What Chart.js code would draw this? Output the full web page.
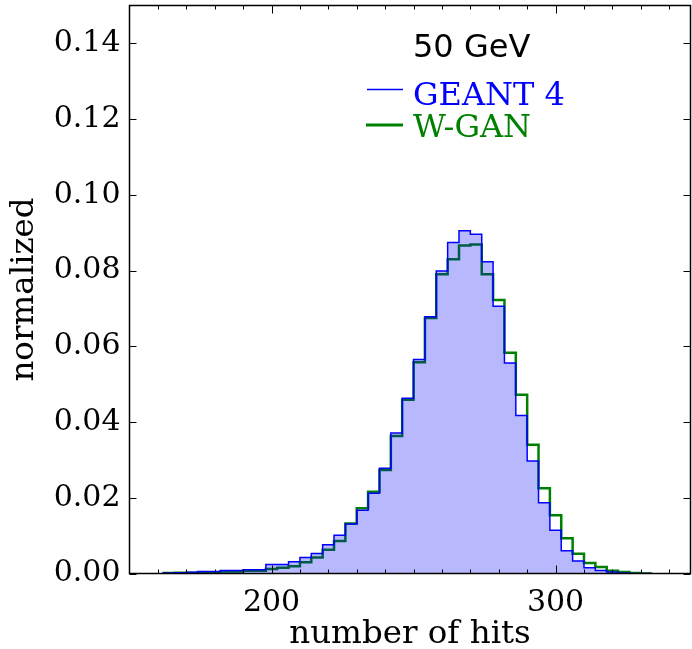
<!DOCTYPE html>
<html><head><meta charset="utf-8">
<script src="https://cdn.jsdelivr.net/npm/chart.js@4"></script>
<style>html,body{margin:0;padding:0;background:#fff}canvas{display:block}</style>
</head><body>
<canvas id="c" width="692" height="649"></canvas>
<script>
// histogram bin edges (number of hits)
const binEdges = [162,166,170,174,178,182,186,190,194,198,202,206,210,214,218,222,226,230,234,238,242,246,250,254,258,262,266,270,274,278,282,286,290,294,298,302,306,310,314,318,322,326,330,334];
// normalized counts per bin
const geant4 = [0.0001,0.0002,0.0003,0.0005,0.0005,0.0008,0.0008,0.0010,0.0010,0.0024,0.0024,0.0031,0.0042,0.0053,0.0076,0.0101,0.0131,0.0167,0.0212,0.0278,0.0371,0.0463,0.0565,0.0678,0.0799,0.0874,0.0905,0.0896,0.0823,0.0706,0.0556,0.0417,0.0297,0.0187,0.0114,0.0060,0.0033,0.0015,0.0008,0.0004,0.0001,0.0000,0.0000];
const wgan   = [0.0001,0.0002,0.0002,0.0003,0.0003,0.0005,0.0005,0.0007,0.0007,0.0012,0.0015,0.0019,0.0030,0.0042,0.0063,0.0086,0.0132,0.0172,0.0216,0.0273,0.0363,0.0459,0.0558,0.0675,0.0790,0.0830,0.0866,0.0869,0.0790,0.0722,0.0583,0.0472,0.0340,0.0225,0.0154,0.0093,0.0052,0.0028,0.0017,0.0007,0.0004,0.0001,0.0000];
const xMajorTicks = [200, 300];
const xMinorTicks = [160,170,180,190,210,220,230,240,250,260,270,280,290,310,320,330,340];
const yTicks = [0,0.02,0.04,0.06,0.08,0.10,0.12,0.14];
const xRange = [150, 347.5];
const yRange = [0, 0.15];
const energyLabel = '50 GeV';
const seriesNames = ['GEANT 4', 'W-GAN'];

function stepPoints(vals){
  const pts = [{x: binEdges[0], y: 0}];
  vals.forEach((v, i) => pts.push({x: binEdges[i], y: v}));
  pts.push({x: binEdges[binEdges.length - 1], y: 0});
  return pts;
}

const BLUE = '#0000ff', GREEN = '#008000';
const serif = 'DejaVu Serif';

const frameTicks = {
  id: 'frameTicks',
  afterDraw(chart){
    const {ctx, chartArea: a, scales: {x, y}} = chart;
    ctx.save();
    ctx.strokeStyle = '#000';
    ctx.lineWidth = 1;
    ctx.beginPath();
    const xt = (v, len) => {
      const px = Math.round(x.getPixelForValue(v)) + 0.5;
      ctx.moveTo(px, a.bottom); ctx.lineTo(px, a.bottom - len);
      ctx.moveTo(px, a.top); ctx.lineTo(px, a.top + len);
    };
    xMinorTicks.forEach(v => xt(v, 4));
    xMajorTicks.forEach(v => xt(v, 8));
    yTicks.forEach(v => {
      const py = Math.round(y.getPixelForValue(v)) + 0.5;
      ctx.moveTo(a.left, py); ctx.lineTo(a.left + 7, py);
      ctx.moveTo(a.right, py); ctx.lineTo(a.right - 7, py);
    });
    ctx.stroke();
    ctx.lineWidth = 1.5;
    ctx.strokeRect(a.left, a.top, a.right - a.left, a.bottom - a.top);

    // annotation + legend
    ctx.textBaseline = 'alphabetic';
    ctx.textAlign = 'left';
    ctx.fillStyle = '#000';
    ctx.font = '32px "DejaVu Sans"';
    ctx.fillText(energyLabel, 413, 57);
    ctx.font = '32px "DejaVu Serif"';
    ctx.fillStyle = BLUE;
    ctx.fillText(seriesNames[0], 413, 105);
    ctx.fillStyle = GREEN;
    ctx.fillText(seriesNames[1], 413, 137);
    ctx.lineWidth = 1.5; ctx.strokeStyle = BLUE;
    ctx.beginPath(); ctx.moveTo(367, 89.5); ctx.lineTo(403, 89.5); ctx.stroke();
    ctx.lineWidth = 3; ctx.strokeStyle = GREEN;
    ctx.beginPath(); ctx.moveTo(366, 125); ctx.lineTo(403, 125); ctx.stroke();
    ctx.restore();
  }
};

new Chart(document.getElementById('c'), {
  type: 'line',
  data: {
    datasets: [
      {label: seriesNames[0], data: stepPoints(geant4), stepped: true, borderColor: BLUE, borderWidth: 1.5,
       backgroundColor: 'rgba(0,0,255,0.28)', fill: 'origin', pointRadius: 0, tension: 0},
      {label: seriesNames[1], data: stepPoints(wgan), stepped: true, borderColor: GREEN, borderWidth: 2.5,
       fill: false, pointRadius: 0, tension: 0}
    ]
  },
  options: {
    responsive: false,
    devicePixelRatio: 1,
    animation: false,
    layout: {padding: {top: 5.5, right: 1.5, left: 0, bottom: 0}},
    plugins: {legend: {display: false}, tooltip: {enabled: false}},
    scales: {
      x: {
        type: 'linear', min: xRange[0], max: xRange[1],
        afterBuildTicks(s){ s.ticks = xMajorTicks.map(v => ({value: v})); },
        afterFit(s){ s.height = 75.5; s.paddingLeft = 0; s.paddingRight = 0; },
        grid: {display: false, drawTicks: false},
        border: {display: false},
        ticks: {font: {family: serif, size: 30}, color: '#000', padding: 12, maxRotation: 0, autoSkip: false,
                callback: v => String(v)},
        title: {display: true, text: 'number of hits', color: '#000', font: {family: serif, size: 32.5, lineHeight: 0.9},
                padding: {top: 0, bottom: 0}}
      },
      y: {
        min: yRange[0], max: yRange[1],
        afterBuildTicks(s){ s.ticks = yTicks.map(v => ({value: v})); },
        afterFit(s){ s.width = 129.5; s.paddingTop = 0; s.paddingBottom = 0; },
        grid: {display: false, drawTicks: false},
        border: {display: false},
        ticks: {font: {family: serif, size: 30}, color: '#000', padding: 9, autoSkip: false,
                callback: v => v.toFixed(2)},
        title: {display: true, text: 'normalized', color: '#000', font: {family: serif, size: 32.5},
                padding: {top: 5, bottom: 0}}
      }
    }
  },
  plugins: [frameTicks]
});
</script>
</body></html>
